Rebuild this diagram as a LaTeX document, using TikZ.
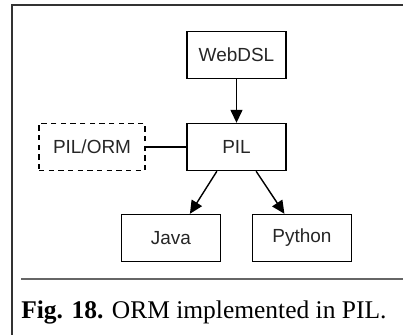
\documentclass[tikz,border=0pt]{standalone}
\usepackage{fontspec}
\setmainfont{Liberation Serif}
\newfontfamily\boxfont{Liberation Sans}
\usetikzlibrary{positioning,arrows.meta}
\tikzset{node distance=1.84cm, auto}
\tikzset{
  lang/.style={draw, line width=0.8pt, minimum width=1.98cm, minimum height=0.94cm,
    font=\boxfont\fontsize{10.8}{12}\selectfont, text=black!85},
  ext/.style={lang, dashed, dash pattern=on 3pt off 2.5pt, minimum width=2.12cm},
  >={Triangle[length=2.6mm,width=2.4mm]}
}

\begin{document}
\begin{tikzpicture}[x=0.02cm,y=-0.02cm]
             \useasboundingbox (0,0) rectangle (403,335);

             \node (PIL) [lang] at (236.5,147) {PIL};
             \node (WebDSL) [lang, above of=PIL] {WebDSL};
             \node (ORM) [ext, left of=PIL, node distance=2.89cm] {PIL/ORM};

             \node (Java) [lang] at (171,238) {Java};
             \node (Python) [lang] at (302,238) {Python};

             \draw [->, line width=0.8pt] (WebDSL) to (PIL);
             \draw [line width=0.8pt] (ORM) to (PIL);
             \draw [->, line width=0.8pt] (PIL.231) to (Java.52);
             \draw [->, line width=0.8pt] (PIL.309) to (Python.126);

             % frame and caption
             \draw [black!80, line width=0.6pt] (403,5) -- (12,5) -- (12,335);
             \draw [black!60, line width=0.6pt] (21,279) -- (403,279);
             \node (caption) [anchor=base west, inner sep=0pt, font=\fontsize{14.5}{16}\selectfont]
               at (21,318) {\textbf{Fig. 18.} ORM implemented in PIL.};
          \end{tikzpicture}
\end{document}
